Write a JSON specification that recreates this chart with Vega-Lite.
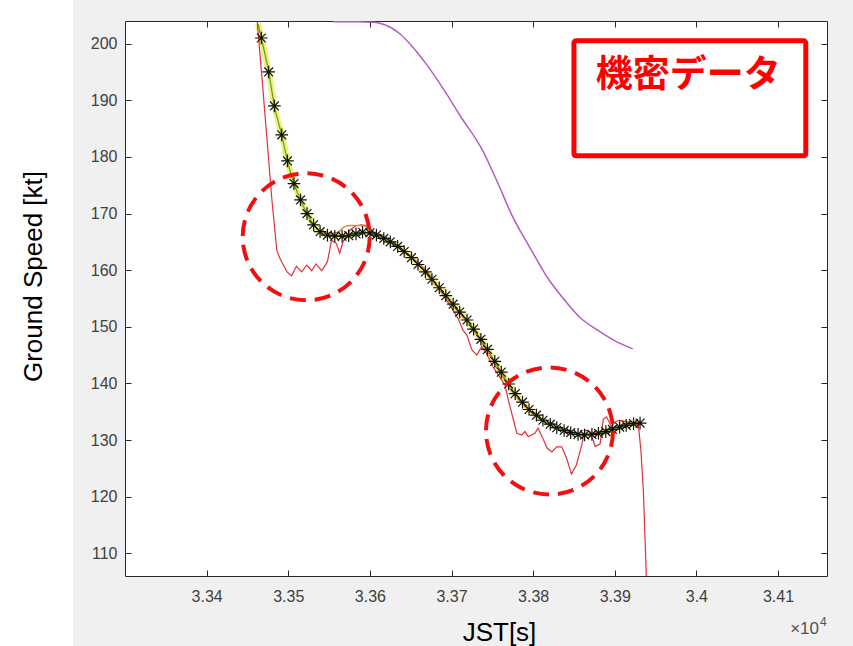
{
  "$schema": "https://vega.github.io/schema/vega-lite/v6.json",
  "background": "#f0f0f0",
  "padding": {"left": 0, "top": 0, "right": 26, "bottom": 0},
  "config": {"font": "Liberation Sans", "view": {"stroke": null}},
  "datasets": {
    "speed": [
      {"t": 33463, "gs": 203.5}, {"t": 33467, "gs": 201.0}, {"t": 33476, "gs": 195.0}, {"t": 33483, "gs": 189.0},
      {"t": 33492, "gs": 183.9}, {"t": 33499, "gs": 179.3}, {"t": 33507, "gs": 175.3}, {"t": 33515, "gs": 172.4},
      {"t": 33523, "gs": 170.0}, {"t": 33531, "gs": 168.0}, {"t": 33539, "gs": 166.8}, {"t": 33548, "gs": 166.2},
      {"t": 33557, "gs": 166.0}, {"t": 33566, "gs": 166.0}, {"t": 33574, "gs": 166.1}, {"t": 33583, "gs": 166.4},
      {"t": 33591, "gs": 166.7}, {"t": 33600, "gs": 166.6}, {"t": 33608, "gs": 166.2}, {"t": 33617, "gs": 165.6},
      {"t": 33625, "gs": 165.0}, {"t": 33634, "gs": 164.2}, {"t": 33642, "gs": 163.3}, {"t": 33651, "gs": 162.2},
      {"t": 33659, "gs": 161.0}, {"t": 33668, "gs": 159.7}, {"t": 33676, "gs": 158.4}, {"t": 33685, "gs": 156.9},
      {"t": 33693, "gs": 155.5}, {"t": 33702, "gs": 154.0}, {"t": 33710, "gs": 152.6}, {"t": 33719, "gs": 151.2},
      {"t": 33727, "gs": 149.6}, {"t": 33736, "gs": 147.8}, {"t": 33744, "gs": 146.0}, {"t": 33753, "gs": 143.9},
      {"t": 33761, "gs": 142.0}, {"t": 33770, "gs": 139.9}, {"t": 33778, "gs": 138.2}, {"t": 33787, "gs": 136.7},
      {"t": 33795, "gs": 135.4}, {"t": 33804, "gs": 134.4}, {"t": 33812, "gs": 133.5}, {"t": 33821, "gs": 132.8},
      {"t": 33829, "gs": 132.2}, {"t": 33838, "gs": 131.7}, {"t": 33846, "gs": 131.3}, {"t": 33855, "gs": 131.0},
      {"t": 33863, "gs": 130.9}, {"t": 33872, "gs": 131.0}, {"t": 33880, "gs": 131.2}, {"t": 33889, "gs": 131.5},
      {"t": 33897, "gs": 131.9}, {"t": 33906, "gs": 132.3}, {"t": 33914, "gs": 132.6}, {"t": 33923, "gs": 132.9},
      {"t": 33931, "gs": 133.0}
    ],
    "raw": [
      {"t": 33462, "gs": 203.9}, {"t": 33468, "gs": 193.6}, {"t": 33474, "gs": 183.0},
      {"t": 33480, "gs": 172.4}, {"t": 33486, "gs": 163.5}, {"t": 33490, "gs": 162.0}, {"t": 33494, "gs": 160.9},
      {"t": 33498.5, "gs": 159.7}, {"t": 33504, "gs": 159.0}, {"t": 33510, "gs": 160.7}, {"t": 33516.5, "gs": 159.7},
      {"t": 33522.6, "gs": 160.9}, {"t": 33528.7, "gs": 159.9}, {"t": 33534, "gs": 161.1}, {"t": 33541, "gs": 159.9},
      {"t": 33548, "gs": 161.5}, {"t": 33553, "gs": 165.3}, {"t": 33559, "gs": 164.7}, {"t": 33563, "gs": 163.0},
      {"t": 33567, "gs": 165.0}, {"t": 33576, "gs": 167.1}, {"t": 33582, "gs": 167.8}, {"t": 33590, "gs": 168.0},
      {"t": 33598, "gs": 167.8}, {"t": 33604, "gs": 166.7}, {"t": 33612, "gs": 166.0}, {"t": 33625, "gs": 165.1},
      {"t": 33637, "gs": 163.9}, {"t": 33649, "gs": 162.5}, {"t": 33661, "gs": 161.1}, {"t": 33674, "gs": 159.0},
      {"t": 33686, "gs": 156.5}, {"t": 33698, "gs": 153.8}, {"t": 33708, "gs": 151.5}, {"t": 33714, "gs": 149.4},
      {"t": 33719, "gs": 148.5}, {"t": 33725, "gs": 145.9}, {"t": 33731, "gs": 145.0}, {"t": 33737, "gs": 146.5},
      {"t": 33742, "gs": 145.5}, {"t": 33751, "gs": 142.9}, {"t": 33761.5, "gs": 140.6}, {"t": 33765.5, "gs": 139.7},
      {"t": 33769.5, "gs": 137.1}, {"t": 33776, "gs": 133.5}, {"t": 33780, "gs": 131.2}, {"t": 33786, "gs": 130.9},
      {"t": 33790, "gs": 131.5}, {"t": 33794, "gs": 130.6}, {"t": 33802, "gs": 131.2}, {"t": 33806, "gs": 132.1},
      {"t": 33812, "gs": 130.3}, {"t": 33817, "gs": 128.6}, {"t": 33823, "gs": 127.9}, {"t": 33829, "gs": 128.8},
      {"t": 33835, "gs": 128.8}, {"t": 33841, "gs": 126.8}, {"t": 33847, "gs": 124.0}, {"t": 33853, "gs": 125.6},
      {"t": 33859.5, "gs": 129.1}, {"t": 33863.5, "gs": 131.8}, {"t": 33870, "gs": 131.4}, {"t": 33876, "gs": 128.9},
      {"t": 33882, "gs": 129.3}, {"t": 33886, "gs": 133.7}, {"t": 33890, "gs": 134.1}, {"t": 33896, "gs": 132.3},
      {"t": 33900, "gs": 133.2}, {"t": 33906, "gs": 133.5}, {"t": 33912.5, "gs": 133.3}, {"t": 33922, "gs": 133.0},
      {"t": 33929, "gs": 132.6}, {"t": 33932, "gs": 128.2}, {"t": 33935, "gs": 121.2}, {"t": 33938, "gs": 108.8},
      {"t": 33939.5, "gs": 101.7}
    ],
    "smooth2": [
      {"t": 33540, "gs": 166.5}, {"t": 33560, "gs": 166.6}, {"t": 33568, "gs": 167.6}, {"t": 33575, "gs": 167.9},
      {"t": 33590, "gs": 167.9}, {"t": 33598, "gs": 167.5}, {"t": 33606, "gs": 166.6}, {"t": 33620, "gs": 165.6},
      {"t": 33640, "gs": 163.6}, {"t": 33660, "gs": 161.0}, {"t": 33680, "gs": 157.5}, {"t": 33700, "gs": 154.0},
      {"t": 33720, "gs": 150.7}, {"t": 33740, "gs": 146.6}, {"t": 33760, "gs": 141.8}, {"t": 33780, "gs": 137.5},
      {"t": 33800, "gs": 134.6}, {"t": 33820, "gs": 132.8}, {"t": 33840, "gs": 131.6}, {"t": 33860, "gs": 131.0},
      {"t": 33880, "gs": 131.3}, {"t": 33900, "gs": 132.2}, {"t": 33920, "gs": 133.0}, {"t": 33933, "gs": 133.2}
    ],
    "ref": [
      {"t": 33555, "gs": 203.85}, {"t": 33585, "gs": 203.85}, {"t": 33605, "gs": 203.8}, {"t": 33612, "gs": 203.6},
      {"t": 33625, "gs": 202.9}, {"t": 33637, "gs": 201.7}, {"t": 33650, "gs": 199.8}, {"t": 33670, "gs": 196.2},
      {"t": 33690, "gs": 192.0}, {"t": 33710, "gs": 187.4}, {"t": 33739, "gs": 180.9}, {"t": 33757, "gs": 175.3},
      {"t": 33775, "gs": 169.4}, {"t": 33796, "gs": 164.0}, {"t": 33817, "gs": 158.8}, {"t": 33837, "gs": 155.0},
      {"t": 33857, "gs": 151.7}, {"t": 33878, "gs": 149.5}, {"t": 33898, "gs": 147.7}, {"t": 33922, "gs": 146.1}
    ],
    "circles": [{"t": 33522, "gs": 165.9}, {"t": 33820, "gs": 131.6}],
    "box": [{"t": 33850, "t2": 34134, "gs": 200.5, "gs2": 180.2, "lt": 33990, "lg": 194.3, "label": "機密データ"}]
  },
  "spacing": 52,
  "bounds": "flush",
  "hconcat": [
    {
      "width": 73, "height": 646,
      "view": {"fill": "white", "stroke": null},
      "data": {"values": [{"s": ""}]},
      "mark": {"type": "text", "baseline": "top", "fontSize": 1},
      "encoding": {"text": {"field": "s"}}
    },
    {
      "spacing": 20,
      "bounds": "flush",
      "vconcat": [
        {
          "width": 702, "height": 1,
          "data": {"values": [{"s": ""}]},
          "mark": {"type": "text", "baseline": "top", "fontSize": 1},
          "encoding": {"text": {"field": "s"}}
        },
        {
          "width": 702, "height": 555,
          "view": {"fill": "white", "stroke": "#262626", "strokeWidth": 1},
          "resolve": {"axis": {"x": "independent", "y": "independent"}},
          "layer": [
            {
              "data": {"name": "speed"},
              "mark": {"type": "line", "color": "#f0f07a", "strokeWidth": 6, "clip": true, "interpolate": "monotone"},
              "encoding": {
                "x": {"field": "t", "type": "quantitative", "scale": {"domain": [33300, 34160], "nice": false, "zero": false},
                  "axis": {"orient": "bottom", "values": [33400, 33500, 33600, 33700, 33800, 33900, 34000, 34100],
                    "labelExpr": "format(datum.value/10000, '.3~f')", "labelFontSize": 16, "labelColor": "#404040",
                    "labelPadding": 18, "labelFlush": false, "labelOverlap": false, "tickSize": -6, "tickColor": "#262626",
                    "domain": false, "grid": false, "title": "JST[s]", "titleFontSize": 26, "titleFontWeight": "normal",
                    "titleColor": "#000000", "titleX": 374, "titleY": 43, "titleBaseline": "top", "titleAlign": "center"}},
                "y": {"field": "gs", "type": "quantitative", "scale": {"domain": [106, 204], "nice": false, "zero": false},
                  "axis": {"orient": "left", "values": [110, 120, 130, 140, 150, 160, 170, 180, 190, 200],
                    "labelFontSize": 16, "labelColor": "#404040", "labelPadding": 14, "labelFlush": false,
                    "tickSize": -6, "tickColor": "#262626", "domain": false, "grid": false,
                    "title": "Ground Speed [kt]", "titleFontSize": 26, "titleFontWeight": "normal", "titleColor": "#000000",
                    "titleX": -92, "titleY": 255, "titleAngle": 270, "titleAlign": "center", "titleBaseline": "middle"}}
              }
            },
            {
              "data": {"name": "raw"},
              "mark": {"type": "line", "color": "#e0303c", "strokeWidth": 1.2, "clip": true},
              "encoding": {
                "x": {"field": "t", "type": "quantitative", "scale": {"domain": [33300, 34160], "nice": false, "zero": false},
                  "axis": {"orient": "top", "values": [33400, 33500, 33600, 33700, 33800, 33900, 34000, 34100],
                    "labels": false, "tickSize": -6, "tickColor": "#262626", "domain": false, "grid": false, "title": null}},
                "y": {"field": "gs", "type": "quantitative", "scale": {"domain": [106, 204], "nice": false, "zero": false},
                  "axis": {"orient": "right", "values": [110, 120, 130, 140, 150, 160, 170, 180, 190, 200],
                    "labels": false, "tickSize": -6, "tickColor": "#262626", "domain": false, "grid": false, "title": null}}
              }
            },
            {
              "data": {"name": "smooth2"},
              "mark": {"type": "line", "color": "#e08a30", "strokeWidth": 1.5, "clip": true, "interpolate": "monotone"},
              "encoding": {
                "x": {"field": "t", "type": "quantitative", "scale": {"domain": [33300, 34160], "nice": false, "zero": false}, "axis": null},
                "y": {"field": "gs", "type": "quantitative", "scale": {"domain": [106, 204], "nice": false, "zero": false}, "axis": null}
              }
            },
            {
              "data": {"name": "speed"},
              "mark": {"type": "line", "color": "#5fa02a", "strokeWidth": 1.2, "clip": true, "interpolate": "monotone"},
              "encoding": {
                "x": {"field": "t", "type": "quantitative", "scale": {"domain": [33300, 34160], "nice": false, "zero": false}, "axis": null},
                "y": {"field": "gs", "type": "quantitative", "scale": {"domain": [106, 204], "nice": false, "zero": false}, "axis": null}
              }
            },
            {
              "data": {"name": "speed"},
              "transform": [{"filter": "datum.gs <= 202"}],
              "mark": {"type": "point", "shape": "M-1,0L1,0M0,-1L0,1M-0.7,-0.7L0.7,0.7M-0.7,0.7L0.7,-0.7",
                "filled": false, "stroke": "#111111", "strokeWidth": 1.2, "size": 160, "opacity": 1, "clip": true},
              "encoding": {
                "x": {"field": "t", "type": "quantitative", "scale": {"domain": [33300, 34160], "nice": false, "zero": false}, "axis": null},
                "y": {"field": "gs", "type": "quantitative", "scale": {"domain": [106, 204], "nice": false, "zero": false}, "axis": null}
              }
            },
            {
              "data": {"name": "ref"},
              "mark": {"type": "line", "color": "#b45cc8", "strokeWidth": 1.5, "clip": true, "interpolate": "monotone"},
              "encoding": {
                "x": {"field": "t", "type": "quantitative", "scale": {"domain": [33300, 34160], "nice": false, "zero": false}, "axis": null},
                "y": {"field": "gs", "type": "quantitative", "scale": {"domain": [106, 204], "nice": false, "zero": false}, "axis": null}
              }
            },
            {
              "data": {"name": "circles"},
              "mark": {"type": "point", "shape": "circle", "filled": false, "stroke": "#f01010", "strokeWidth": 4,
                "strokeDash": [16, 9], "size": 16129, "opacity": 1},
              "encoding": {
                "x": {"field": "t", "type": "quantitative", "scale": {"domain": [33300, 34160], "nice": false, "zero": false}, "axis": null},
                "y": {"field": "gs", "type": "quantitative", "scale": {"domain": [106, 204], "nice": false, "zero": false}, "axis": null}
              }
            },
            {
              "data": {"name": "box"},
              "mark": {"type": "rect", "filled": false, "stroke": "#ff0000", "strokeWidth": 5, "cornerRadius": 2},
              "encoding": {
                "x": {"field": "t", "type": "quantitative", "scale": {"domain": [33300, 34160], "nice": false, "zero": false}, "axis": null},
                "x2": {"field": "t2"},
                "y": {"field": "gs", "type": "quantitative", "scale": {"domain": [106, 204], "nice": false, "zero": false}, "axis": null},
                "y2": {"field": "gs2"}
              }
            },
            {
              "data": {"name": "box"},
              "mark": {"type": "text", "font": "Noto Sans CJK JP", "fontWeight": "bold", "fontSize": 37, "color": "#ff0000",
                "align": "center", "baseline": "middle"},
              "encoding": {
                "x": {"field": "lt", "type": "quantitative", "scale": {"domain": [33300, 34160], "nice": false, "zero": false}, "axis": null},
                "y": {"field": "lg", "type": "quantitative", "scale": {"domain": [106, 204], "nice": false, "zero": false}, "axis": null},
                "text": {"field": "label"}
              }
            },
            {
              "data": {"name": "box"},
              "mark": {"type": "text", "fontSize": 17, "color": "#505050", "align": "right", "baseline": "alphabetic",
                "dx": -8, "dy": 58, "clip": false},
              "encoding": {
                "x": {"datum": 34160, "type": "quantitative", "scale": {"domain": [33300, 34160], "nice": false, "zero": false}, "axis": null},
                "y": {"datum": 106, "type": "quantitative", "scale": {"domain": [106, 204], "nice": false, "zero": false}, "axis": null},
                "text": {"value": "×10"}
              }
            },
            {
              "data": {"name": "box"},
              "mark": {"type": "text", "fontSize": 12, "color": "#505050", "align": "left", "baseline": "alphabetic",
                "dx": -7, "dy": 50, "clip": false},
              "encoding": {
                "x": {"datum": 34160, "type": "quantitative", "scale": {"domain": [33300, 34160], "nice": false, "zero": false}, "axis": null},
                "y": {"datum": 106, "type": "quantitative", "scale": {"domain": [106, 204], "nice": false, "zero": false}, "axis": null},
                "text": {"value": "4"}
              }
            }
          ]
        }
      ]
    }
  ]
}
